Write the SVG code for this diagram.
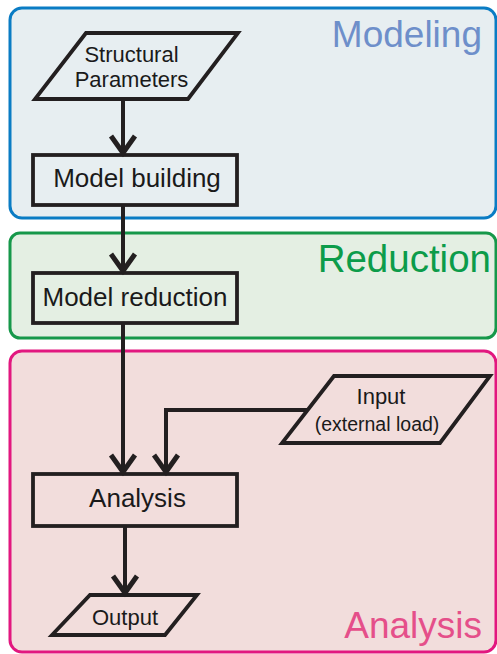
<svg xmlns="http://www.w3.org/2000/svg" width="497" height="654" viewBox="0 0 497 654">
<defs>
<style>
.t{font-family:"Liberation Sans",Arial,sans-serif;fill:#1a1a1a;text-anchor:middle}
.lbl{font-family:"Liberation Sans",Arial,sans-serif;font-size:37px;text-anchor:end}
.shape{fill:none;stroke:#231f20;stroke-width:3.8;stroke-linejoin:miter}
.conn{fill:none;stroke:#231f20;stroke-width:4}
</style>
<marker id="chev" markerUnits="userSpaceOnUse" viewBox="-24 -15 28 30" markerWidth="28" markerHeight="30" refX="0" refY="0" orient="auto">
<path d="M-19,-12 L-2,0 L-19,12" fill="none" stroke="#231f20" stroke-width="5"/>
</marker>
</defs>
<rect width="497" height="654" fill="#ffffff"/>
<g id="modeling">
<rect x="10" y="8" width="486" height="210" rx="12" fill="#e7eef1" stroke="#0a7cc4" stroke-width="3"/>
<text class="lbl" x="482" y="47" fill="#6e8fca">Modeling</text>
</g>
<g id="reduction">
<rect x="10" y="233" width="486" height="105" rx="10" fill="#e4efe3" stroke="#16984a" stroke-width="3"/>
<text class="lbl" x="491" y="272" fill="#0c9c4a" style="font-size:38.5px">Reduction</text>
</g>
<g id="analysis-group">
<rect x="10" y="351" width="486" height="301" rx="12" fill="#f2dddc" stroke="#e2177f" stroke-width="3"/>
<text class="lbl" x="482" y="638" fill="#e54f8a">Analysis</text>
</g>
<g id="structural-parameters">
<polygon class="shape" points="86,33 238,33 188,99 35,99"/>
<text class="t" x="131.5" y="62" font-size="22">Structural</text>
<text class="t" x="131.5" y="87" font-size="22">Parameters</text>
</g>
<g id="model-building">
<rect class="shape" x="33" y="155" width="204" height="50"/>
<text class="t" x="137" y="187" font-size="26">Model building</text>
</g>
<g id="model-reduction">
<rect class="shape" x="33" y="273" width="204" height="50"/>
<text class="t" x="135" y="306" font-size="26">Model reduction</text>
</g>
<g id="input">
<polygon class="shape" points="334,376 490,376 440,443 282,443"/>
<text class="t" x="381" y="404" font-size="22">Input</text>
<text class="t" x="377" y="431" font-size="19.5">(external load)</text>
</g>
<g id="analysis">
<rect class="shape" x="33" y="474" width="204" height="52"/>
<text class="t" x="137.5" y="507" font-size="26">Analysis</text>
</g>
<g id="output">
<polygon class="shape" points="90,595 197,595 165,635 52,635"/>
<text class="t" x="125" y="625" font-size="22">Output</text>
</g>
<g id="connectors">
<line class="conn" x1="123" y1="99" x2="123" y2="155" marker-end="url(#chev)"/>
<line class="conn" x1="123" y1="205" x2="123" y2="273" marker-end="url(#chev)"/>
<line class="conn" x1="123" y1="323" x2="123" y2="474" marker-end="url(#chev)"/>
<polyline class="conn" points="307,410 166,410 166,474" marker-end="url(#chev)"/>
<line class="conn" x1="125" y1="526" x2="125" y2="595" marker-end="url(#chev)"/>
</g>
</svg>
